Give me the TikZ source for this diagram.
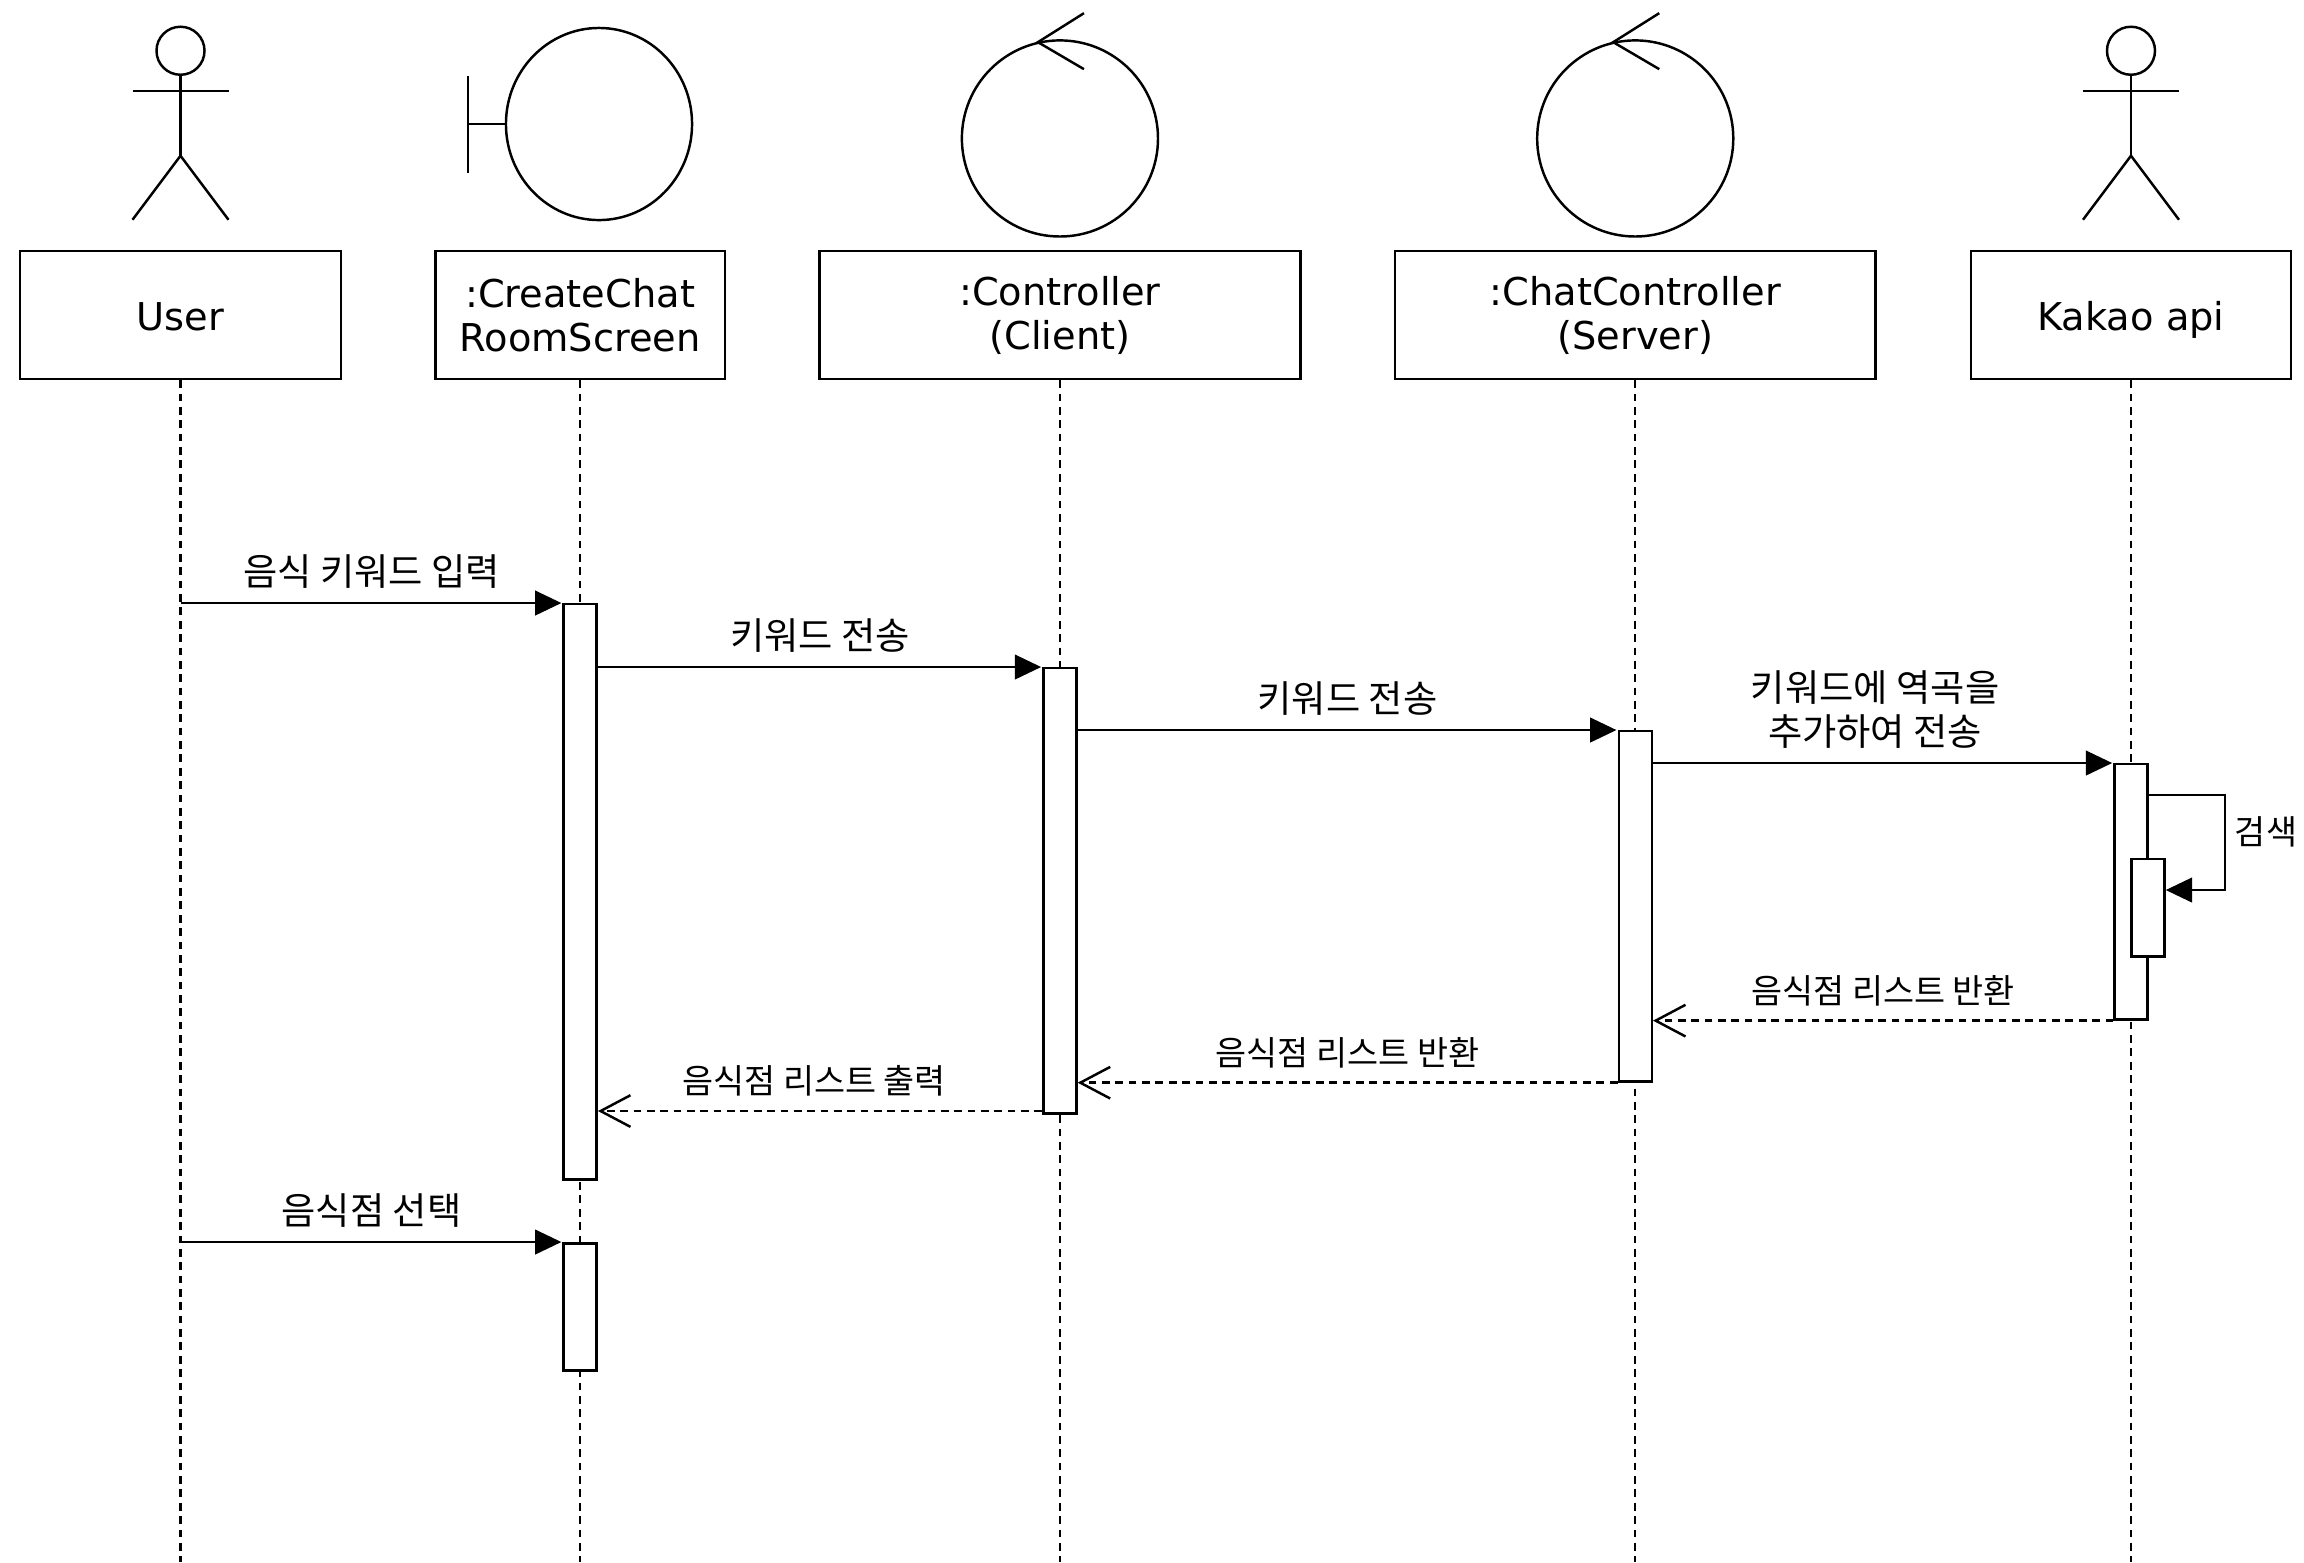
\documentclass[tikz,border=0pt]{standalone}
\usepackage{fontspec}
\setmainfont{DejaVu Sans}
\newfontfamily\krfont{Noto Sans CJK KR}
\usetikzlibrary{arrows.meta,positioning,shapes.geometric}

\begin{document}
\begin{tikzpicture}[x=.01cm,y=-.01cm,
  node distance=.92cm,
  line width=.7pt,
  head/.style={draw,minimum height=1.28cm,align=center,inner sep=0pt,
    font=\fontsize{10.9}{12.5}\selectfont},
  single/.style={text height=8.8pt,text depth=0pt},
  bar/.style={draw,fill=white,minimum width=.33cm,inner sep=0pt,anchor=north},
  orb/.style={draw,circle,inner sep=0pt},
  call/.style={-{Triangle[length=7.5pt,width=7pt]},shorten >=.3pt},
  reply/.style={-{Straight Barb[length=8.5pt,width=9pt]},dash pattern=on 2.2pt off 1.6pt},
  life/.style={dash pattern=on 2.2pt off 1.6pt},
  say/.style={above=2.7pt,inner sep=1pt,align=center,
    font=\krfont\fontsize{10.6}{12.6}\selectfont},
  back/.style={above=2.9pt,inner sep=1pt,
    font=\krfont\fontsize{9.6}{11.5}\selectfont}]
\useasboundingbox (0,0) rectangle (2304,1562);
\coordinate (bottom) at (0,1562);
% lifeline heads
\node[head,single,minimum width=3.21cm] (user) at (180.5,315) {User};
\node[head,minimum width=2.89cm,right=of user] (screen) {:CreateChat\\RoomScreen};
\node[head,minimum width=4.81cm,right=of screen] (client) {:Controller\\(Client)};
\node[head,minimum width=4.80cm,right=of client] (server) {:ChatController\\(Server)};
\node[head,single,minimum width=3.20cm,right=.93cm of server] (kakao) {Kakao api};
\foreach \a in {user,screen,client,server,kakao}
  \draw[life] (\a.south)--(\a.south |- bottom);
% actors
\foreach \a in {user,kakao}{
  \begin{scope}[shift={(\a.north)}]
    \node[orb,minimum size=.48cm] (\a head) at (0,-199) {};
    \draw (\a head.south)--(0,-94);
    \draw (-48,-159)--(48,-159);
    \draw (-48,-30)--(0,-94)--(48,-30);
  \end{scope}}
% boundary
\node[draw,ellipse,inner sep=0pt,minimum width=1.86cm,minimum height=1.92cm] (form) at (599,124) {};
\draw (form.west)--(468,124);
\draw (468,76)--(468,173);
% controls
\foreach \a/\b in {client/clientorb,server/serverorb}{
  \node[orb,minimum size=1.96cm,above=.12cm of \a] (\b) {};
  \draw (\b.north) ++(24,-26) --++(-46,29) --++(46,27);}
% activations
\node[bar,minimum height=5.75cm] (act1) at (screen.south |- 0,603) {};
\node[bar,minimum height=4.45cm] (act2) at (client.south |- 0,667) {};
\node[bar,minimum height=3.50cm] (act3) at (server.south |- 0,730) {};
\node[bar,minimum height=2.55cm] (act4) at (kakao.south |- 0,763) {};
\node[bar,minimum height=.97cm] (act5) at (2148,858) {};
\node[bar,minimum height=1.27cm] (act6) at (screen.south |- 0,1242) {};
% messages
\draw[call] (user.south |- act1.north)--(act1.north west)
  node[say,midway] {음식 키워드 입력};
\draw[call] (act1.east |- act2.north)--(act2.north west)
  node[say,midway] {키워드 전송};
\draw[call] (act2.east |- act3.north)--(act3.north west)
  node[say,midway] {키워드 전송};
\draw[call] (act3.east |- act4.north)--(act4.north west)
  node[say,midway,xshift=-.08cm] {키워드에 역곡을\\추가하여 전송};
\coordinate (loopa) at (act4.east |- 0,795);
\coordinate (loopb) at (2225,890);
\draw[call,shorten >=0pt] (loopa)-|(loopb)--(loopb -| act5.east);
\node[font=\krfont\fontsize{9.6}{11.5}\selectfont,inner sep=0pt] (search) at (2266,832) {검색};
\draw[reply] (act4.south west)--(act4.south west -| act3.east)
  node[back,midway] {음식점 리스트 반환};
\draw[reply] (act3.south west)--(act3.south west -| act2.east)
  node[back,midway] {음식점 리스트 반환};
\draw[reply] (act2.south west |- 0,1111)--(act1.east |- 0,1111)
  node[back,midway,xshift=-.06cm] {음식점 리스트 출력};
\draw[call] (user.south |- act6.north)--(act6.north west)
  node[say,midway] {음식점 선택};
\end{tikzpicture}
\end{document}
